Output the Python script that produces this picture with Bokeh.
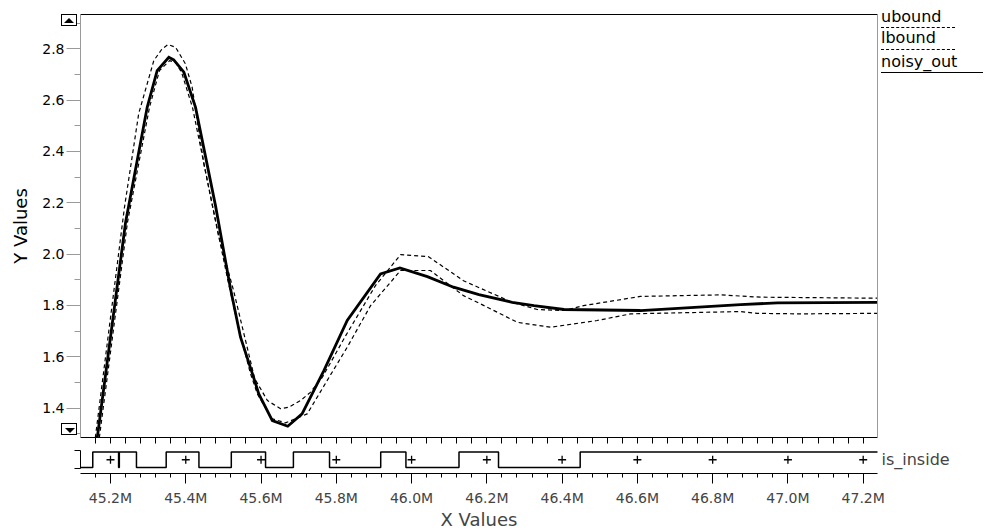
from bokeh.plotting import figure
from bokeh.models import (Range1d, FixedTicker, SingleIntervalTicker, PrintfTickFormatter,
                          LinearAxis, GridBox, Div)
from bokeh.embed import file_html
from bokeh.resources import INLINE

FONT = "DejaVu Sans"

# ---- data (time in M units) ----
t_noisy = [45.160, 45.240, 45.2975, 45.324, 45.355, 45.368, 45.395, 45.426, 45.479, 45.519,
           45.5455, 45.577, 45.594, 45.630, 45.671, 45.709, 45.767, 45.829, 45.9175, 45.969,
           46.042, 46.1115, 46.179, 46.2675, 46.325, 46.405, 46.608, 46.874, 46.972, 47.2375, 47.25]
noisy_out = [1.230, 2.123, 2.572, 2.715, 2.767, 2.757, 2.709, 2.572, 2.189, 1.864,
             1.676, 1.534, 1.455, 1.351, 1.329, 1.377, 1.546, 1.741, 1.923, 1.946,
             1.912, 1.871, 1.842, 1.812, 1.799, 1.784, 1.780, 1.803, 1.810, 1.812, 1.812]

t_ubound = [45.155, 45.237, 45.275, 45.315, 45.337, 45.353, 45.373, 45.399, 45.417, 45.448,
            45.487, 45.527, 45.583, 45.617, 45.652, 45.674, 45.705, 45.731, 45.763, 45.825,
            45.904, 45.971, 46.045, 46.138, 46.2675, 46.334, 46.404, 46.457, 46.608, 46.8195,
            46.927, 47.2375, 47.25]
ubound = [1.230, 2.181, 2.548, 2.754, 2.800, 2.817, 2.806, 2.742, 2.650, 2.352,
          2.072, 1.858, 1.515, 1.429, 1.397, 1.403, 1.429, 1.461, 1.520, 1.682,
          1.877, 1.998, 1.990, 1.896, 1.812, 1.784, 1.780, 1.799, 1.835, 1.841,
          1.832, 1.828, 1.828]

t_lbound = [45.1655, 45.245, 45.3036, 45.330, 45.357, 45.373, 45.389, 45.418, 45.471, 45.511,
            45.540, 45.572, 45.590, 45.628, 45.665, 45.7227, 45.785, 45.829, 45.891, 45.9707,
            46.050, 46.138, 46.201, 46.281, 46.369, 46.493, 46.582, 46.874, 46.9185, 47.0345,
            47.2375, 47.25]
lbound = [1.230, 2.123, 2.572, 2.715, 2.754, 2.747, 2.708, 2.571, 2.189, 1.904,
          1.713, 1.534, 1.456, 1.359, 1.342, 1.377, 1.530, 1.637, 1.799, 1.936,
          1.936, 1.838, 1.793, 1.734, 1.715, 1.741, 1.767, 1.776, 1.769, 1.767,
          1.769, 1.769]

t_inside = [45.1203, 45.1529, 45.2215, 45.2235, 45.269, 45.348, 45.435, 45.521, 45.612, 45.686,
            45.782, 45.918, 45.985, 46.126, 46.231, 46.448, 47.25]
is_inside = [0, 1, 0, 1, 0, 1, 0, 1, 0, 1,
             0, 1, 0, 1, 0, 1, 1]

x_ticks = [45.2, 45.4, 45.6, 45.8, 46.0, 46.2, 46.4, 46.6, 46.8, 47.0, 47.2]

legend_names = ["ubound", "lbound", "noisy_out"]
legend_dash = ["dashed", "dashed", "solid"]

X0, X1 = 45.1203, 47.238
xr = Range1d(X0, X1)
W, H_MAIN, H_LANE = 984, 447, 85

# ---- main plot ----
main = figure(width=W, height=H_MAIN, x_range=xr, y_range=Range1d(1.285, 2.934),
              output_backend="svg", toolbar_location=None,
              min_border_left=80, min_border_right=107, min_border_top=14, min_border_bottom=10)
main.outline_line_color = None
main.xgrid.visible = False
main.ygrid.visible = False

minor_x = [round(45.12 + 0.04 * i, 2) for i in range(54)]
xa = main.xaxis[0]
xa.ticker = FixedTicker(ticks=[], minor_ticks=minor_x)
xa.minor_tick_out = 6
xa.minor_tick_in = 0
xa.major_tick_out = 0
xa.major_label_standoff = 0
xa.axis_line_color = "black"

ya = main.yaxis[0]
ya.ticker = SingleIntervalTicker(interval=0.2, num_minor_ticks=2)
ya.formatter = PrintfTickFormatter(format="%.1f")
ya.major_tick_out = 14
ya.major_tick_in = 0
ya.minor_tick_out = 6
ya.minor_tick_in = 0
ya.axis_line_color = "#9a9a9a"
ya.major_tick_line_color = "#9a9a9a"
ya.minor_tick_line_color = "#9a9a9a"
ya.major_label_text_font = FONT
ya.major_label_text_font_size = "14px"
ya.major_label_text_color = "black"
ya.major_label_standoff = 2
ya.axis_label = "Y Values"
ya.axis_label_text_font = FONT
ya.axis_label_text_font_size = "18px"
ya.axis_label_text_font_style = "normal"
ya.axis_label_text_color = "black"
ya.axis_label_standoff = 8

top_axis = LinearAxis(ticker=FixedTicker(ticks=[]), axis_line_color="black",
                      major_tick_out=0, minor_tick_out=0, major_label_standoff=0)
main.add_layout(top_axis, "above")
right_axis = LinearAxis(ticker=FixedTicker(ticks=[]), axis_line_color="#9a9a9a",
                        major_tick_out=0, minor_tick_out=0, major_label_standoff=0)
main.add_layout(right_axis, "right")

main.line(t_ubound, ubound, line_color="black", line_width=1.2, line_dash="4 3")
main.line(t_lbound, lbound, line_color="black", line_width=1.2, line_dash="4 3")
main.line(t_noisy, noisy_out, line_color="black", line_width=2.8, line_join="miter")

# ---- digital lane ----
lane = figure(width=W, height=H_LANE, x_range=xr, y_range=Range1d(-0.395, 1.30),
              output_backend="svg", toolbar_location=None,
              min_border_left=80, min_border_right=107, min_border_top=0, min_border_bottom=55)
lane.outline_line_color = None
lane.xgrid.visible = False
lane.ygrid.visible = False

lx = lane.xaxis[0]
lx.ticker = SingleIntervalTicker(interval=0.2, num_minor_ticks=5)
lx.formatter = PrintfTickFormatter(format="%.1fM")
lx.major_tick_out = 10
lx.major_tick_in = 0
lx.minor_tick_out = 4
lx.minor_tick_in = 0
lx.axis_line_color = "black"
lx.major_label_text_font = FONT
lx.major_label_text_font_size = "14px"
lx.major_label_standoff = 6
lx.axis_label = "X Values"
lx.axis_label_text_font = FONT
lx.axis_label_text_font_size = "18px"
lx.axis_label_text_font_style = "normal"
lx.axis_label_standoff = 0

ly = lane.yaxis[0]
ly.ticker = FixedTicker(ticks=[], minor_ticks=[-0.1, 1.13])
ly.bounds = (-0.1, 1.13)
ly.minor_tick_out = 6
ly.minor_tick_in = 0
ly.major_tick_out = 0
ly.major_label_standoff = 0
ly.axis_line_color = "black"

ry = LinearAxis(ticker=FixedTicker(ticks=[0.5]), major_label_overrides={0.5: "is_inside"},
                axis_line_color=None, major_tick_line_color=None, minor_tick_line_color=None,
                major_tick_out=0, major_tick_in=0, minor_tick_out=0,
                major_label_text_font=FONT, major_label_text_font_size="16px",
                major_label_standoff=4)
lane.add_layout(ry, "right")

lane.step(t_inside, is_inside, mode="after", line_color="black", line_width=1.5)
lane.scatter(x_ticks, [0.5] * len(x_ticks), marker="cross", size=8, line_width=1.3, color="black")

# ---- transparent HTML overlay: legend block and scroll buttons ----
H = H_MAIN + H_LANE
parts = []
for i, name in enumerate(legend_names):
    base = [20.7, 41.0, 65.0][i]
    uline = [26.5, 49.0, 71.5][i]
    length = 102 if legend_dash[i] == "solid" else 74
    parts.append(
        f'<div style="position:absolute;left:881px;top:{base - 11.5:.1f}px;font-size:16px;'
        f'line-height:16px;white-space:nowrap;">{name}</div>')
    parts.append(
        f'<div style="position:absolute;left:881px;top:{uline:.1f}px;width:{length}px;height:0;'
        f'border-top:1px {legend_dash[i]} black;"></div>')
for top, tri in [(14, "up"), (423, "down")]:
    parts.append(
        f'<div style="position:absolute;left:61px;top:{top}px;width:16px;height:12px;'
        f'border:1px solid black;background:white;"></div>')
    if tri == "up":
        parts.append(
            f'<div style="position:absolute;left:64px;top:{top + 4}px;width:0;height:0;'
            f'border-left:5.5px solid transparent;border-right:5.5px solid transparent;'
            f'border-bottom:5px solid black;"></div>')
    else:
        parts.append(
            f'<div style="position:absolute;left:64.5px;top:{top + 5}px;width:0;height:0;'
            f'border-left:5.5px solid transparent;border-right:5.5px solid transparent;'
            f'border-top:5px solid black;"></div>')
html = (f'<div style="position:relative;width:{W}px;height:{H}px;font-family:\'{FONT}\';'
        f'color:black;pointer-events:none;">' + "".join(parts) + "</div>")
overlay = Div(text=html, width=W, height=H, margin=(0, 0, 0, 0))

layout = GridBox(children=[(main, 0, 0), (lane, 1, 0), (overlay, 0, 0, 2, 1)], spacing=0)
open("out.html", "w").write(file_html(layout, INLINE))
